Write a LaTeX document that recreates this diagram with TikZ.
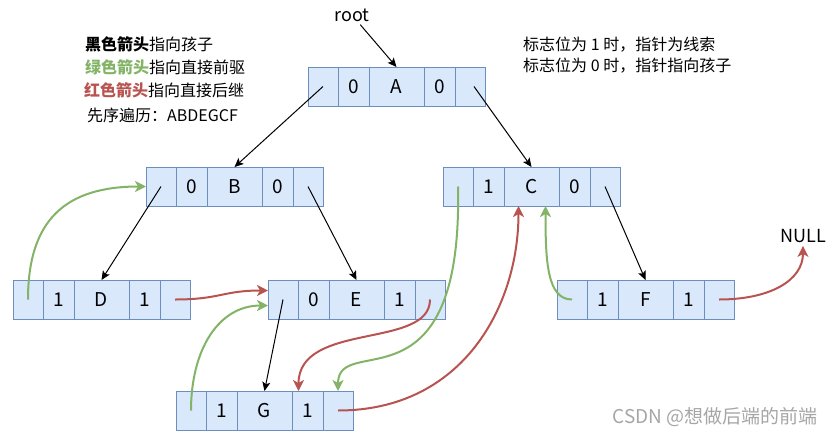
\documentclass[tikz,border=0pt]{standalone}
\usepackage{fontspec}
\setmainfont{Noto Sans CJK SC}
\usetikzlibrary{positioning,arrows.meta}

\definecolor{cellfill}{HTML}{DAE8FC}
\definecolor{celldraw}{HTML}{6C8EBF}
\definecolor{predgreen}{HTML}{82B366}
\definecolor{succred}{HTML}{B85450}

\tikzset{
  cell/.style={draw=celldraw, fill=cellfill, line width=1pt, minimum height=39pt,
    inner sep=0pt, outer sep=0pt, font=\fontsize{19}{22}\selectfont},
  ptrcell/.style={cell, minimum width=30pt},
  tagcell/.style={cell, minimum width=31pt},
  datacell/.style={cell, minimum width=55pt},
  txt/.style={inner sep=2pt, font=\fontsize{16}{19}\selectfont},
  child/.style={draw, line width=1pt, -{Stealth[length=9pt,width=8pt,inset=2pt]}},
  pred/.style={draw=predgreen, line width=2pt, -{Stealth[length=11pt,width=11pt,inset=3pt]}},
  succ/.style={draw=succred, line width=2pt, -{Stealth[length=11pt,width=11pt,inset=3pt]}}
}

% one record: name, corner, ltag, data, rtag
\newcommand{\threadnode}[5]{%
  \node[ptrcell, anchor=north west] (#1p) at #2 {};
  \node[tagcell, right=0pt of #1p] (#1l) {#3};
  \node[datacell, right=0pt of #1l] (#1d) {#4};
  \node[tagcell, right=0pt of #1d] (#1r) {#5};
  \node[ptrcell, right=0pt of #1r] (#1q) {};
}

\begin{document}
\begin{tikzpicture}[x=1pt,y=1pt]
\useasboundingbox (0,0) rectangle (835,-440);

\node[txt, anchor=west] (legend1) at (83,-44) {\textbf{黑色箭头}指向孩子};
\node[txt, anchor=west] (legend2) at (83,-67) {\textcolor{predgreen}{\textbf{绿色箭头}}指向直接前驱};
\node[txt, anchor=west] (legend3) at (82,-90) {\textcolor{succred}{\textbf{红色箭头}}指向直接后继};
\node[txt, anchor=west] (legend4) at (85,-115) {先序遍历：ABDEGCF};

\node[txt, anchor=west] (flag1) at (521,-45) {标志位为 1 时，指针为线索};
\node[txt, anchor=west] (flag2) at (521,-66) {标志位为 0 时，指针指向孩子};

\node[txt, font=\fontsize{18}{21}\selectfont, inner sep=3pt] (root) at (352,-15) {root};
\node[txt, font=\fontsize{18}{21}\selectfont, inner sep=3pt] (null) at (803,-236) {NULL};

\threadnode{a}{(308,-67)}{0}{A}{0}
\threadnode{b}{(146,-167)}{0}{B}{0}
\threadnode{c}{(443,-167)}{1}{C}{0}
\threadnode{d}{(13,-280)}{1}{D}{1}
\threadnode{e}{(268,-280)}{0}{E}{1}
\threadnode{f}{(557,-280)}{1}{F}{1}
\threadnode{g}{(176,-391)}{1}{G}{1}

% children
\path[child] (root) -- (ad.north);
\path[child] ([xshift=4pt]aq.center) -- (cd.north);
\path[child] (ap.center) -- (bd.north);
\path[child] (bp.center) -- (dd.north);
\path[child] (bq.center) -- (ed.north);
\path[child] (cq.center) -- (fd.north);
\path[child] (ep.center) -- (gd.north);

% threads
\path[pred] (dp.center) .. controls +(0,80) and +(-80,0) .. (bp.west);
\path[succ] (dq.center) .. controls +(45,0) and +(-45,0) .. ([yshift=9pt]ep.west);
\path[pred] (gp.center) .. controls +(0,60) and +(-50,0) .. ([yshift=-6pt]ep.west);
\path[succ] (eq.center) .. controls +(0,-50) and +(0,70) .. ([xshift=-9pt]gr.north);
\path[pred] (cp.center) .. controls +(5,-230) and +(0,60) .. (gq.north);
\path[succ] (gq.center) .. controls +(125,0) and +(0,-100) .. ([xshift=-13pt]cd.south);
\path[pred] (fp.center) .. controls +(-25,0) and +(0,-55) .. ([xshift=14pt]cd.south);
\path[succ] (fq.center) .. controls +(50,0) and +(0,-45) .. (null);

\node[txt, anchor=east, text=gray!70, font=\fontsize{19}{22}\selectfont] (mark) at (820,-417) {CSDN @想做后端的前端};
\end{tikzpicture}
\end{document}
